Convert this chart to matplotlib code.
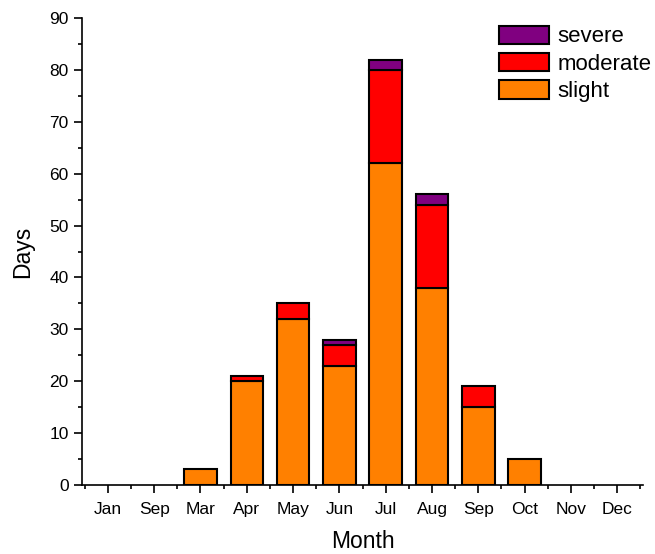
import matplotlib
matplotlib.use('Agg')
import matplotlib.pyplot as plt
import numpy as np
from matplotlib.ticker import MultipleLocator, FixedLocator
from matplotlib.patches import Patch

plt.rcParams['font.family'] = ['Liberation Sans', 'DejaVu Sans']

# Data
months = ['Jan', 'Sep', 'Mar', 'Apr', 'May', 'Jun', 'Jul', 'Aug', 'Sep', 'Oct', 'Nov', 'Dec']
slight = [0, 0, 3, 20, 32, 23, 62, 38, 15, 5, 0, 0]
moderate = [0, 0, 0, 1, 3, 4, 18, 16, 4, 0, 0, 0]
severe = [0, 0, 0, 0, 0, 1, 2, 2, 0, 0, 0, 0]

colors = {'slight': '#FF8000', 'moderate': '#FF0000', 'severe': '#800080'}

x = np.arange(1, len(months) + 1)
slight = np.array(slight)
moderate = np.array(moderate)
severe = np.array(severe)

fig = plt.figure(figsize=(6.55, 5.54), dpi=100)
ax = fig.add_axes([0.125, 0.1245, 0.857, 0.843])

w = 0.7
lw = 1.5
b1 = ax.bar(x, slight, w, color=colors['slight'], edgecolor='black', linewidth=lw)
b2 = ax.bar(x, moderate, w, bottom=slight, color=colors['moderate'], edgecolor='black', linewidth=lw)
b3 = ax.bar(x, severe, w, bottom=slight + moderate, color=colors['severe'], edgecolor='black', linewidth=lw)
# hide zero-height bars
for bars, vals in ((b1, slight), (b2, moderate), (b3, severe)):
    for r, v in zip(bars, vals):
        if v == 0:
            r.set_visible(False)

ax.set_xlim(0.44, 12.56)
ax.set_ylim(0, 90)
ax.set_xticks(x)
ax.set_xticklabels(months)
ax.xaxis.set_minor_locator(FixedLocator(np.arange(0.5, 13, 1)))
ax.yaxis.set_major_locator(MultipleLocator(10))
ax.yaxis.set_minor_locator(MultipleLocator(5))
ax.tick_params(axis='both', which='major', direction='out', length=6, width=1.2, labelsize=12.5)
ax.tick_params(axis='both', which='minor', direction='out', length=3, width=1.2)
ax.tick_params(axis='x', which='major', pad=6)

for s in ('top', 'right'):
    ax.spines[s].set_visible(False)
for s in ('left', 'bottom'):
    ax.spines[s].set_linewidth(1.2)

ax.set_xlabel('Month', fontsize=16.5, labelpad=9.5)
ax.set_ylabel('Days', fontsize=16.5, labelpad=11)

handles = [Patch(facecolor=colors[k], edgecolor='black', linewidth=lw, label=k)
           for k in ('severe', 'moderate', 'slight')]
ax.legend(handles=handles, loc='upper right', bbox_to_anchor=(1.046, 1.022), frameon=False,
          fontsize=16, handlelength=2.25, handleheight=0.9, handletextpad=0.35,
          labelspacing=0.25, borderpad=0.3)

fig.savefig('out.png', dpi=100)
